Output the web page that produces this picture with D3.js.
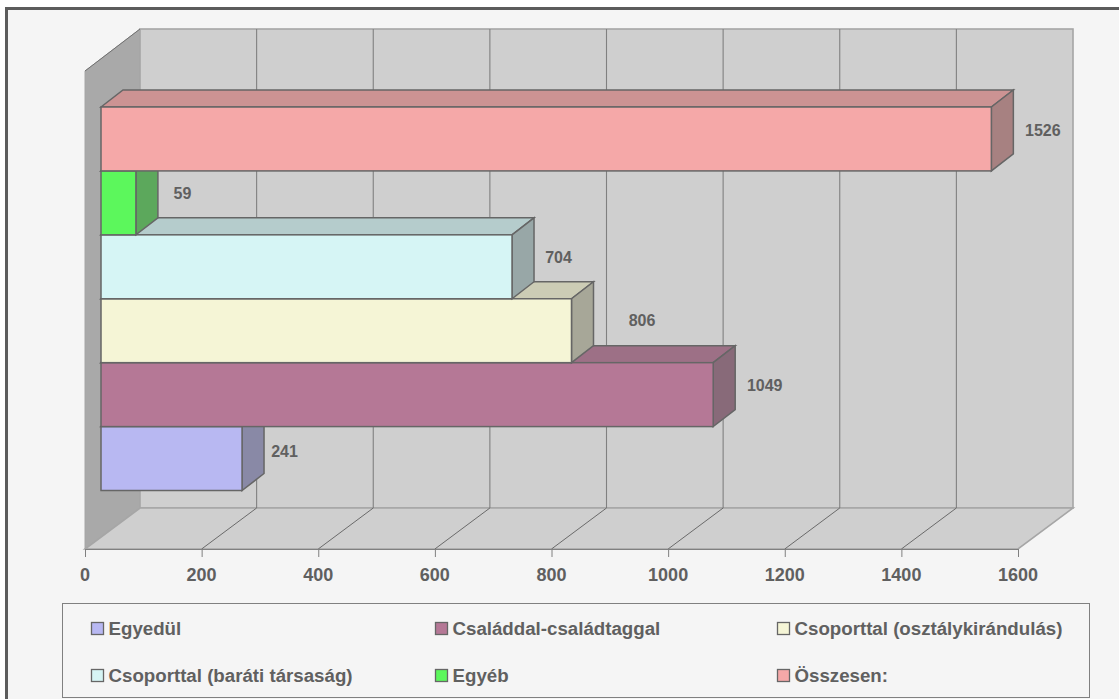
<!DOCTYPE html>
<html><head><meta charset="utf-8">
<script src="https://cdn.jsdelivr.net/npm/d3@7"></script>
<style>html,body{margin:0;padding:0;background:#fff}svg{display:block}
text{font-family:"Liberation Sans",Arial,sans-serif;font-weight:bold;fill:#606060}</style>
</head><body><div id="c"></div>
<script>
const categories=["Egyedül","Családdal-családtaggal","Csoporttal (osztálykirándulás)","Csoporttal (baráti társaság)","Egyéb","Összesen:"];
const values=[241,1049,806,704,59,1526];
const colors=["#b8b8f2","#b57896","#f5f5d6","#d6f5f5","#5cf75c","#f5a8a8"];
const tickValues=[0,200,400,600,800,1000,1200,1400,1600];
const labelShift=[20.5,29.5,48.5,24.5,24.5,29.5];
const labelLift=[7,9,10,10,10,9];

const W=1119,H=699;
const svg=d3.select("#c").append("svg").attr("width",W).attr("height",H);
svg.append("rect").attr("x",6.5).attr("y",8.5).attr("width",1125).attr("height",710)
  .attr("fill","#f5f5f5").attr("stroke","#5c5c5c").attr("stroke-width",3);

const x0=85,x1=1018,yFront=549,dxW=55,dyW=41,yTop=71;
const x=d3.scaleLinear().domain([0,1600]).range([x0,x1]);
const line="#a6a6a6";
// walls
svg.append("polygon").attr("points",[[x0,yTop],[x0+dxW,yTop-dyW-1],[x0+dxW,yFront-dyW],[x0,yFront]].join(" ")).attr("fill","#a9a9a9").attr("stroke",line);
svg.append("rect").attr("x",x0+dxW).attr("y",yTop-dyW-1).attr("width",x1-x0).attr("height",yFront-yTop+1).attr("fill","#cfcfcf").attr("stroke",line).attr("stroke-width",1.6);
svg.append("polygon").attr("points",[[x0,yFront],[x0+dxW,yFront-dyW],[x1+dxW,yFront-dyW],[x1,yFront]].join(" ")).attr("fill","#cfcfcf").attr("stroke",line).attr("stroke-width",1.6);
svg.append("line").attr("x1",x0).attr("x2",x0+dxW).attr("y1",yTop).attr("y2",yTop-dyW-1).attr("stroke","#707070");
// gridlines
const inner=tickValues.slice(1,-1);
svg.selectAll(".g").data(inner).join("line").attr("x1",d=>x(d)+dxW).attr("x2",d=>x(d)+dxW)
  .attr("y1",yTop-dyW-1).attr("y2",yFront-dyW).attr("stroke","#808080").attr("stroke-width",1.1);
svg.selectAll(".f").data(inner).join("line").attr("x1",d=>x(d)).attr("x2",d=>x(d)+dxW)
  .attr("y1",yFront).attr("y2",yFront-dyW).attr("stroke","#6a6a6a");
// axis
svg.append("line").attr("x1",x0).attr("x2",x1).attr("y1",yFront+.5).attr("y2",yFront+.5).attr("stroke","#808080");
svg.selectAll(".t").data(tickValues).join("line").attr("x1",d=>x(d)+.5).attr("x2",d=>x(d)+.5)
  .attr("y1",yFront).attr("y2",yFront+8).attr("stroke","#808080");
svg.selectAll(".tl").data(tickValues).join("text").attr("x",d=>x(d)).attr("y",575).attr("dy","0.36em")
  .attr("text-anchor","middle").attr("font-size",18).text(d=>d);
// bars
const y=d3.scaleBand().domain(categories).range([490.5,107]).paddingInner(0);
const bx=101,dx=22,dy=17,edge="#666666";
const tone=(c,a,b)=>{const r=d3.rgb(c);return d3.rgb(r.r*a+b,r.g*a+b,r.b*a+b).formatHex();};
categories.forEach((cat,i)=>{
  const g=svg.append("g");
  const xe=x(values[i])-x0+bx+.5, t=y(cat), b=t+y.bandwidth();
  g.append("polygon").attr("points",[[bx,t],[bx+dx,t-dy],[xe+dx,t-dy],[xe,t]].join(" "))
    .attr("fill",tone(colors[i],.74,23)).attr("stroke",edge).attr("stroke-width",1.5);
  g.append("polygon").attr("points",[[xe,t],[xe+dx,t-dy],[xe+dx,b-dy],[xe,b]].join(" "))
    .attr("fill",tone(colors[i],.49,47)).attr("stroke",edge).attr("stroke-width",1.5);
  g.append("rect").attr("x",bx).attr("y",t).attr("width",xe-bx).attr("height",b-t)
    .attr("fill",colors[i]).attr("stroke",edge).attr("stroke-width",1.5);
  svg.append("text").attr("x",xe+dx+labelShift[i]).attr("y",(t+b)/2-labelLift[i]).attr("dy","0.36em")
    .attr("text-anchor","middle").attr("font-size",16).text(values[i]);
});
// legend
svg.append("rect").attr("x",62.5).attr("y",603.5).attr("width",1027).attr("height",94).attr("fill","#f5f5f5").attr("stroke","#808080");
const colX=[91,435,777],rowY=[628.5,675.5];
categories.forEach((cat,i)=>{
  const cx=colX[i%3],cy=rowY[Math.floor(i/3)];
  svg.append("rect").attr("x",cx+.5).attr("y",cy-6).attr("width",12).attr("height",12).attr("fill",colors[i]).attr("stroke",edge).attr("stroke-width",1.3);
  svg.append("text").attr("x",cx+17.5).attr("y",cy).attr("dy","0.36em").attr("font-size",18.7).text(cat);
});
</script></body></html>
